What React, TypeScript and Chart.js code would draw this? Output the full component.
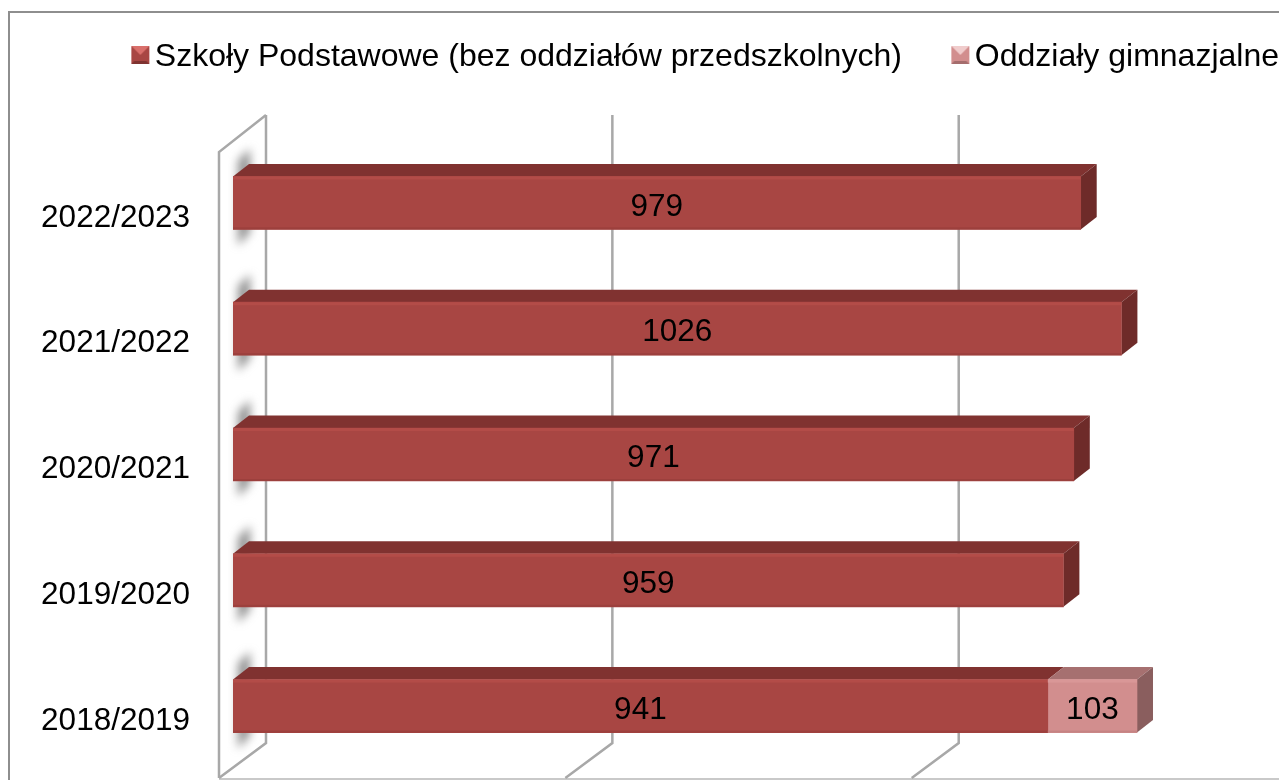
import React, { useEffect, useRef } from "react";
import { Chart, registerables } from "chart.js";

Chart.register(...registerables);

const categories = ["2022/2023", "2021/2022", "2020/2021", "2019/2020", "2018/2019"];
const schoolValues = [979, 1026, 971, 959, 941];
const gymnasiumValues = [null, null, null, null, 103];
const gridValues = [0, 400, 800];
const schoolLabel = "Szkoły Podstawowe (bez oddziałów przedszkolnych)";
const gymnasiumLabel = "Oddziały gimnazjalne";

const FONT = '"Liberation Sans", Arial, sans-serif';
const DX = 16;
const DY = 12.5;
const BACK_X = 33;
const GRID = "#a8a8a8";
const PALETTE = [
  { front: "#a84643", top: "#803230", side: "#6e2b29", hi: "#b34c48", lo: "#9c403d", mTop: "#d96f6b", mBot: "#7f3331" },
  { front: "#d28e8e", top: "#a67070", side: "#8a5e5e", hi: "#d99797", lo: "#c58383", mTop: "#f0cccc", mBot: "#a56d6d" },
];

function marker(p: (typeof PALETTE)[number]) {
  const c = document.createElement("canvas");
  c.width = 80;
  c.height = 22;
  const g = c.getContext("2d")!;
  const o = 59;
  g.fillStyle = p.front;
  g.fillRect(o, 0, 18, 18);
  g.fillStyle = p.mTop;
  g.beginPath();
  g.moveTo(o, 0);
  g.lineTo(o + 18, 0);
  g.lineTo(o + 9, 9);
  g.closePath();
  g.fill();
  g.fillStyle = p.mBot;
  g.beginPath();
  g.moveTo(o, 18);
  g.lineTo(o + 18, 18);
  g.lineTo(o + 15, 15);
  g.lineTo(o + 3, 15);
  g.closePath();
  g.fill();
  return c;
}

function poly(ctx: CanvasRenderingContext2D, pts: number[][], fill: string) {
  ctx.fillStyle = fill;
  ctx.beginPath();
  pts.forEach(([x, y], i) => (i ? ctx.lineTo(x, y) : ctx.moveTo(x, y)));
  ctx.closePath();
  ctx.fill();
}

const scene = {
  id: "scene",
  beforeDatasetsDraw(chart: any) {
    const { ctx } = chart;
    const xs = chart.scales.x;
    const zero = xs.getPixelForValue(0);
    const wallTop = 115;
    const wallBot = 743;
    const frontBot = 778;

    ctx.save();
    ctx.strokeStyle = "#8e8e8e";
    ctx.lineWidth = 2;
    ctx.beginPath();
    ctx.moveTo(9, 781);
    ctx.lineTo(9, 12);
    ctx.lineTo(1282, 12);
    ctx.stroke();
    ctx.strokeStyle = "#c9c9c9";
    ctx.beginPath();
    ctx.moveTo(zero - 14, 779);
    ctx.lineTo(1282, 779);
    ctx.stroke();

    const first = chart.getDatasetMeta(0).data;
    ctx.filter = "blur(5px)";
    first.forEach((b: any) => {
      const t = b.y - b.height / 2;
      const e = b.y + b.height / 2;
      poly(ctx, [[zero + 5, t - 16], [zero + 17, t - 28], [zero + 17, e + 3], [zero + 5, e + 16]], "rgba(125,125,125,0.85)");
    });
    ctx.filter = "none";

    ctx.strokeStyle = GRID;
    ctx.lineWidth = 2.5;
    gridValues.forEach((v) => {
      const bx = xs.getPixelForValue(v) + BACK_X;
      ctx.beginPath();
      ctx.moveTo(bx, wallTop);
      ctx.lineTo(bx, wallBot);
      ctx.lineTo(bx - 47, frontBot);
      ctx.stroke();
    });
    ctx.beginPath();
    ctx.moveTo(zero + BACK_X, wallTop);
    ctx.lineTo(zero - 14, 152);
    ctx.lineTo(zero - 14, frontBot);
    ctx.stroke();

    chart.data.datasets.forEach((d: any, di: number) => {
      const p = PALETTE[di];
      chart.getDatasetMeta(di).data.forEach((b: any, i: number) => {
        if (d.data[i] == null) return;
        const t = b.y - b.height / 2;
        const e = b.y + b.height / 2;
        const l = Math.min(b.base, b.x);
        const r = Math.max(b.base, b.x);
        poly(ctx, [[l, t], [l + DX, t - DY], [r + DX, t - DY], [r, t]], p.top);
        const isLast = !chart.data.datasets.slice(di + 1).some((o: any) => o.data[i] != null);
        if (isLast) poly(ctx, [[r, t], [r + DX, t - DY], [r + DX, e - DY], [r, e]], p.side);
      });
    });
    ctx.restore();
  },
  afterDatasetsDraw(chart: any) {
    const { ctx } = chart;
    ctx.save();
    chart.data.datasets.forEach((d: any, di: number) => {
      const p = PALETTE[di];
      chart.getDatasetMeta(di).data.forEach((b: any, i: number) => {
        if (d.data[i] == null) return;
        const t = b.y - b.height / 2;
        const l = Math.min(b.base, b.x);
        const w = Math.abs(b.x - b.base);
        ctx.fillStyle = p.hi;
        ctx.fillRect(l, t, w, 3);
        ctx.fillStyle = p.lo;
        ctx.fillRect(l, t + b.height - 2, w, 2);
        ctx.fillStyle = "#000";
        ctx.font = `31.5px ${FONT}`;
        ctx.textAlign = "center";
        ctx.textBaseline = "middle";
        ctx.fillText(String(d.data[i]), l + w / 2, b.y + 4);
      });
    });
    ctx.restore();
  },
};

export default function App() {
  const ref = useRef<HTMLCanvasElement>(null);
  useEffect(() => {
    const markers = PALETTE.map(marker);
    const chart = new Chart(ref.current!, {
      type: "bar",
      data: {
        labels: categories,
        datasets: [
          { label: schoolLabel, data: schoolValues, backgroundColor: PALETTE[0].front, barThickness: 53 },
          { label: gymnasiumLabel, data: gymnasiumValues, backgroundColor: PALETTE[1].front, barThickness: 53 },
        ],
      } as any,
      options: {
        indexAxis: "y",
        responsive: false,
        animation: false,
        layout: { padding: { top: 37, right: -4, bottom: 11, left: 0 } },
        scales: {
          x: {
            position: "top",
            stacked: true,
            min: 0,
            max: 1208,
            ticks: { display: false, stepSize: 400 },
            grid: { display: false },
            border: { display: false },
            afterFit: (s: any) => {
              s.height = 57;
            },
          },
          y: {
            stacked: true,
            grid: { display: false },
            border: { display: false },
            ticks: {
              autoSkip: false,
              color: "#000",
              padding: 35,
              labelOffset: 15,
              font: { family: FONT, size: 31.5 },
            },
            afterFit: (s: any) => {
              s.width = 233;
              s.paddingTop = 0;
              s.paddingBottom = 0;
            },
          },
        },
        plugins: {
          tooltip: { enabled: false },
          legend: {
            position: "top",
            align: "end",
            labels: {
              usePointStyle: true,
              pointStyleWidth: 53,
              boxHeight: 18,
              padding: 4,
              color: "#000",
              font: { family: FONT, size: 32, lineHeight: 1 },
              generateLabels: (c: any) =>
                c.data.datasets.map((d: any, i: number) => ({
                  text: d.label,
                  datasetIndex: i,
                  pointStyle: markers[i],
                  fillStyle: PALETTE[i].front,
                  strokeStyle: "transparent",
                  lineWidth: 0,
                  hidden: false,
                })),
            },
          },
        },
      } as any,
      plugins: [scene],
    } as any);
    return () => chart.destroy();
  }, []);
  return (
    <div style={{ position: "fixed", left: 0, top: 0, width: 1279, height: 780, overflow: "hidden", background: "#fff" }}>
      <canvas ref={ref} width={1279} height={780} style={{ display: "block", filter: "blur(0.4px)" }} />
    </div>
  );
}
